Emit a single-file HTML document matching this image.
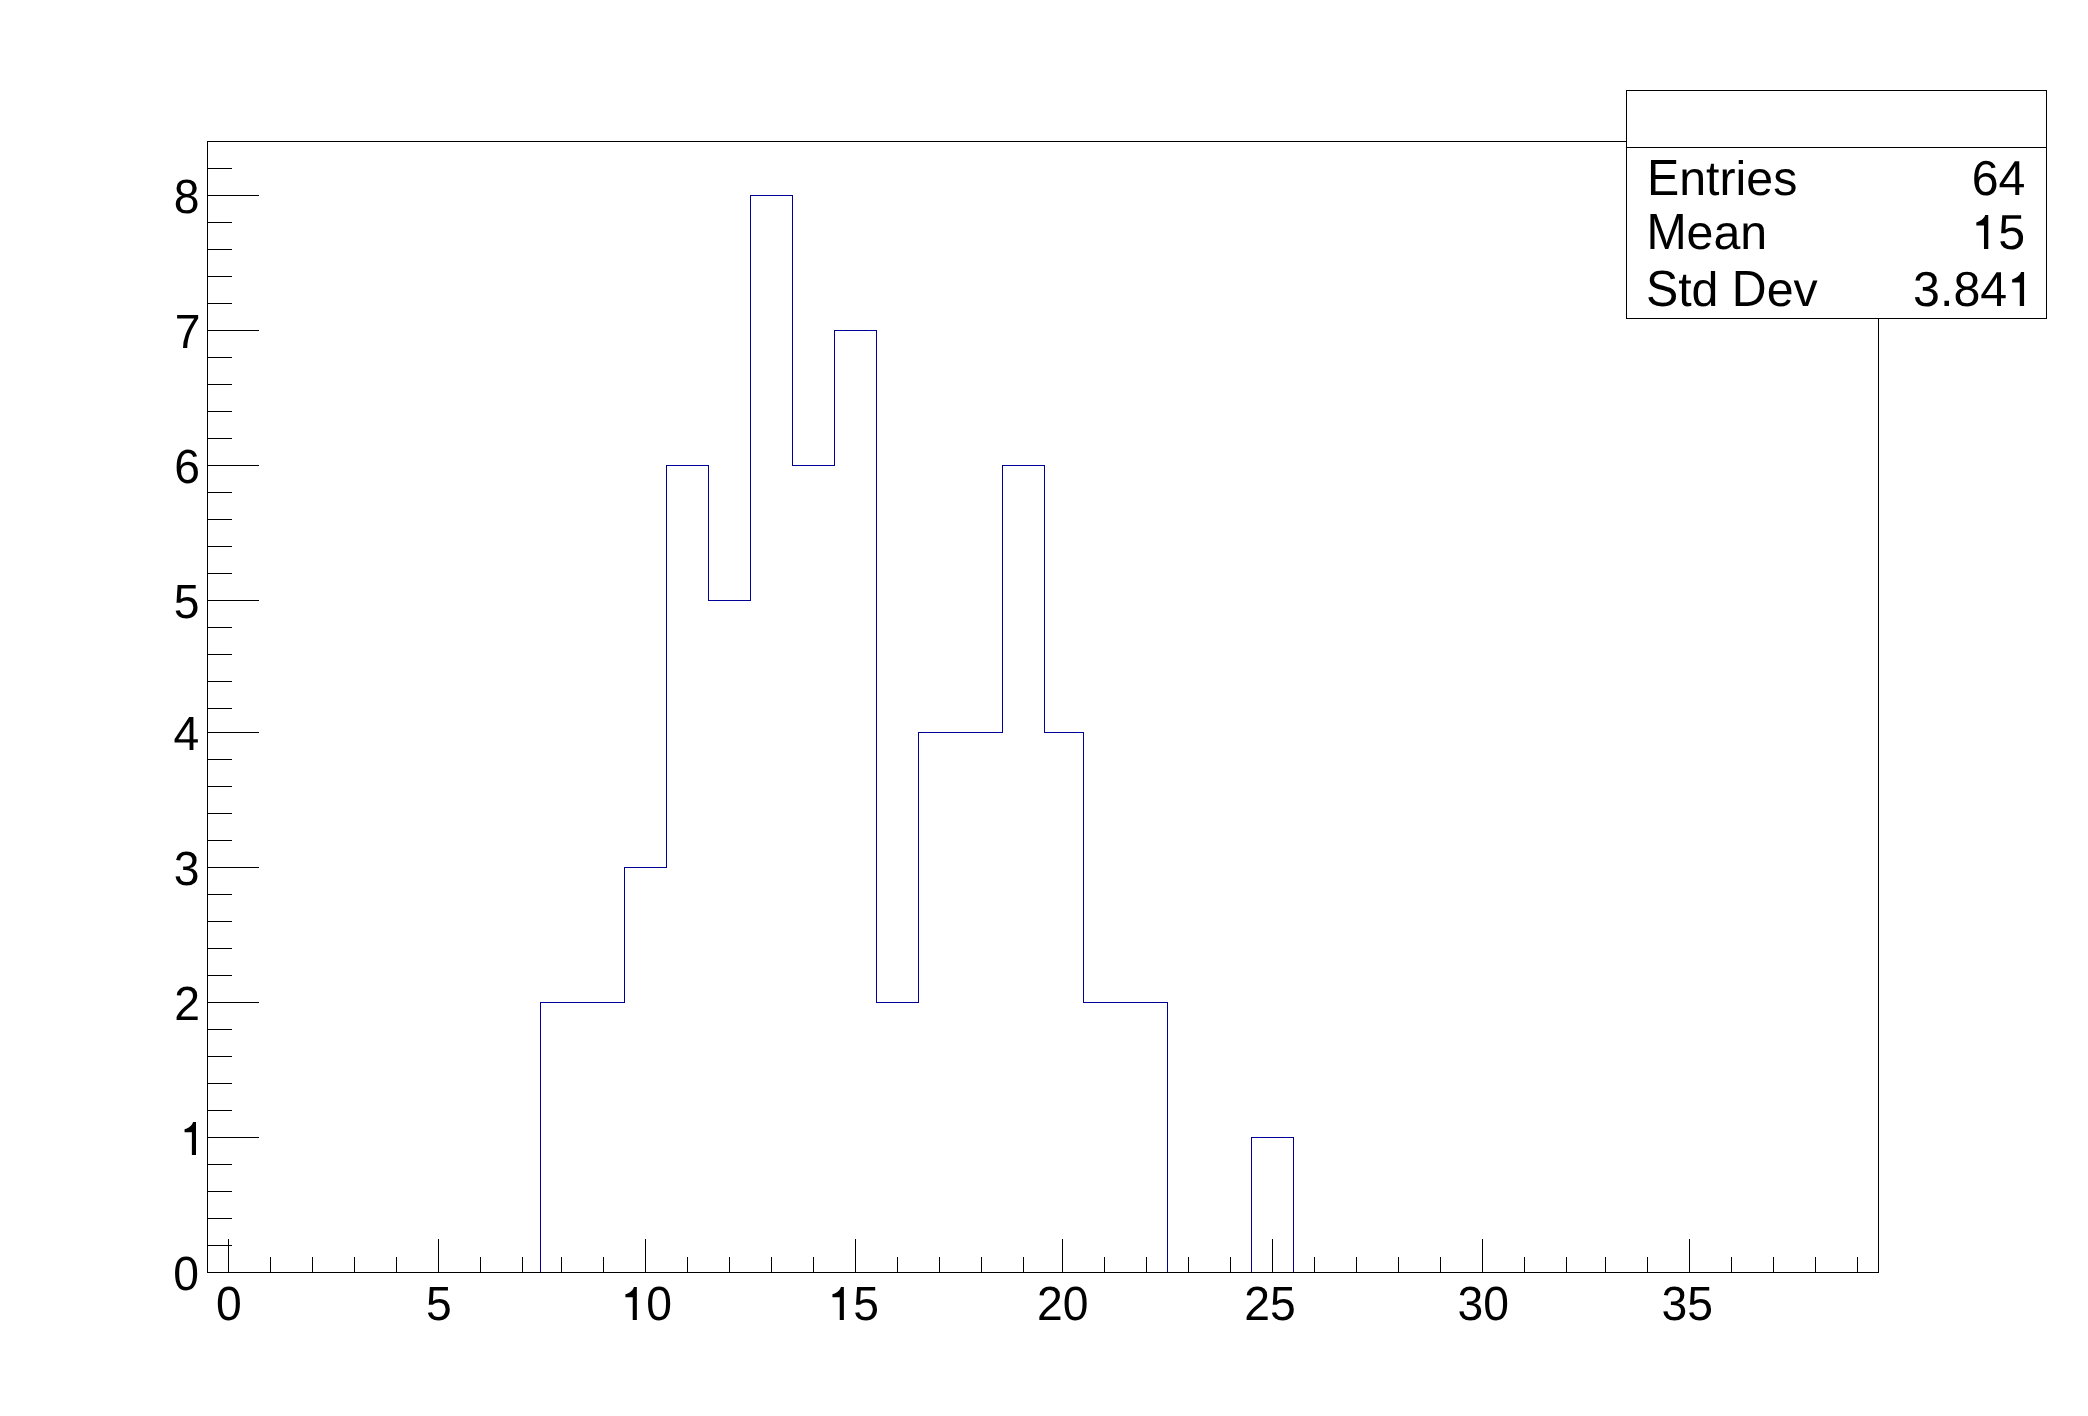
<!DOCTYPE html>
<html><head><meta charset="utf-8"><title>Histogram</title>
<style>
html,body{margin:0;padding:0;background:#fff;overflow:hidden;}
svg{display:block;will-change:transform;}
text{font-family:"Liberation Sans",sans-serif;fill:#000;text-rendering:geometricPrecision;font-kerning:none;}
.ax{font-size:46.3px;}
.st{font-size:48.3px;}
.h1{fill-opacity:0;}
</style></head><body>
<svg width="2088" height="1416" viewBox="0 0 2088 1416">
<defs><path id="one" d="M351 0 L351 709 L287 709 C272 645 205 582 104 554 L104 490 L262 490 L262 0 Z"/></defs>
<rect x="0" y="0" width="2088" height="1416" fill="#fff"/>
<path d="M207 1272h43v1h-43zM249 1272h43v1h-43zM291 1272h43v1h-43zM333 1272h43v1h-43zM375 1272h43v1h-43zM417 1272h43v1h-43zM459 1272h43v1h-43zM501 1272h40v1h-40zM540 1002h1v271h-1zM540 1002h43v1h-43zM582 1002h43v1h-43zM624 867h1v136h-1zM624 867h43v1h-43zM666 465h1v403h-1zM666 465h43v1h-43zM708 465h1v136h-1zM708 600h43v1h-43zM750 195h1v406h-1zM750 195h43v1h-43zM792 195h1v271h-1zM792 465h43v1h-43zM834 330h1v136h-1zM834 330h43v1h-43zM876 330h1v673h-1zM876 1002h43v1h-43zM918 732h1v271h-1zM918 732h43v1h-43zM960 732h43v1h-43zM1002 465h1v268h-1zM1002 465h43v1h-43zM1044 465h1v268h-1zM1044 732h40v1h-40zM1083 732h1v271h-1zM1083 1002h43v1h-43zM1125 1002h43v1h-43zM1167 1002h1v271h-1zM1167 1272h43v1h-43zM1209 1272h43v1h-43zM1251 1137h1v136h-1zM1251 1137h43v1h-43zM1293 1137h1v136h-1zM1293 1272h43v1h-43zM1335 1272h43v1h-43zM1377 1272h43v1h-43zM1419 1272h43v1h-43zM1461 1272h43v1h-43zM1503 1272h43v1h-43zM1545 1272h40v1h-40zM1584 1272h43v1h-43zM1626 1272h43v1h-43zM1668 1272h43v1h-43zM1710 1272h43v1h-43zM1752 1272h43v1h-43zM1794 1272h43v1h-43zM1836 1272h43v1h-43z" fill="#000099"/>
<path d="M207 141h1672v1h-1672zM1878 141h1v1132h-1zM207 1272h1672v1h-1672zM207 141h1v1132h-1z" fill="#000"/>
<path d="M228 1239h1v33h-1zM270 1257h1v15h-1zM312 1257h1v15h-1zM354 1257h1v15h-1zM396 1257h1v15h-1zM438 1239h1v33h-1zM480 1257h1v15h-1zM522 1257h1v15h-1zM561 1257h1v15h-1zM603 1257h1v15h-1zM645 1239h1v33h-1zM687 1257h1v15h-1zM729 1257h1v15h-1zM771 1257h1v15h-1zM813 1257h1v15h-1zM855 1239h1v33h-1zM897 1257h1v15h-1zM939 1257h1v15h-1zM981 1257h1v15h-1zM1023 1257h1v15h-1zM1062 1239h1v33h-1zM1104 1257h1v15h-1zM1146 1257h1v15h-1zM1188 1257h1v15h-1zM1230 1257h1v15h-1zM1272 1239h1v33h-1zM1314 1257h1v15h-1zM1356 1257h1v15h-1zM1398 1257h1v15h-1zM1440 1257h1v15h-1zM1482 1239h1v33h-1zM1524 1257h1v15h-1zM1566 1257h1v15h-1zM1605 1257h1v15h-1zM1647 1257h1v15h-1zM1689 1239h1v33h-1zM1731 1257h1v15h-1zM1773 1257h1v15h-1zM1815 1257h1v15h-1zM1857 1257h1v15h-1zM207 1272h52v1h-52zM207 1245h25v1h-25zM207 1218h25v1h-25zM207 1191h25v1h-25zM207 1164h25v1h-25zM207 1137h52v1h-52zM207 1110h25v1h-25zM207 1083h25v1h-25zM207 1056h25v1h-25zM207 1029h25v1h-25zM207 1002h52v1h-52zM207 975h25v1h-25zM207 948h25v1h-25zM207 921h25v1h-25zM207 894h25v1h-25zM207 867h52v1h-52zM207 840h25v1h-25zM207 813h25v1h-25zM207 786h25v1h-25zM207 759h25v1h-25zM207 732h52v1h-52zM207 708h25v1h-25zM207 681h25v1h-25zM207 654h25v1h-25zM207 627h25v1h-25zM207 600h52v1h-52zM207 573h25v1h-25zM207 546h25v1h-25zM207 519h25v1h-25zM207 492h25v1h-25zM207 465h52v1h-52zM207 438h25v1h-25zM207 411h25v1h-25zM207 384h25v1h-25zM207 357h25v1h-25zM207 330h52v1h-52zM207 303h25v1h-25zM207 276h25v1h-25zM207 249h25v1h-25zM207 222h25v1h-25zM207 195h52v1h-52zM207 168h25v1h-25zM207 141h25v1h-25z" fill="#000"/>
<text class="ax" transform="translate(215.93 1320) scale(1 1.036)">0</text>
<text class="ax" transform="translate(425.88 1320) scale(1 1.036)">5</text>
<text class="ax" transform="translate(620.60 1320) scale(1 1.036)"><tspan class="h1">1</tspan>0</text><use href="#one" transform="translate(620.60 1320) scale(0.04630 -0.04655)"/>
<text class="ax" transform="translate(827.62 1320) scale(1 1.036)"><tspan class="h1">1</tspan>5</text><use href="#one" transform="translate(827.62 1320) scale(0.04630 -0.04655)"/>
<text class="ax" transform="translate(1037.09 1320) scale(1 1.036)">20</text>
<text class="ax" transform="translate(1244.21 1320) scale(1 1.036)">25</text>
<text class="ax" transform="translate(1457.42 1320) scale(1 1.036)">30</text>
<text class="ax" transform="translate(1661.54 1320) scale(1 1.036)">35</text>
<text class="ax" transform="translate(173.36 1290) scale(1 1.036)">0</text>
<text class="ax" transform="translate(179.75 1155) scale(1 1.036)"><tspan class="h1">1</tspan></text><use href="#one" transform="translate(179.75 1155) scale(0.04630 -0.04655)"/>
<text class="ax" transform="translate(174.18 1020) scale(1 1.036)">2</text>
<text class="ax" transform="translate(173.68 885) scale(1 1.036)">3</text>
<text class="ax" transform="translate(173.61 750) scale(1 1.036)">4</text>
<text class="ax" transform="translate(173.79 618) scale(1 1.036)">5</text>
<text class="ax" transform="translate(174.28 483) scale(1 1.036)">6</text>
<text class="ax" transform="translate(174.78 348) scale(1 1.036)">7</text>
<text class="ax" transform="translate(173.86 213) scale(1 1.036)">8</text>
<rect x="1626" y="90" width="421" height="229" fill="#fff"/>
<path d="M1626 90h421v1h-421zM2046 90h1v229h-1zM1626 318h421v1h-421zM1626 90h1v229h-1zM1626 147h421v1h-421z" fill="#000"/>
<text class="st" transform="translate(1647.03 195) scale(1 1.053)">E</text><text class="st" transform="translate(1679.25 195) scale(1 1.0)">ntries</text>
<text class="st" transform="translate(1646.38 249) scale(1 1.053)">M</text><text class="st" transform="translate(1686.61 249) scale(1 1.0)">ean</text>
<text class="st" transform="translate(1645.93 306) scale(1 1.053)">S</text><text class="st" transform="translate(1678.15 306) scale(1 1.0)">td </text><text class="st" transform="translate(1731.85 306) scale(1 1.053)">D</text><text class="st" transform="translate(1766.73 306) scale(1 1.0)">ev</text>
<text class="st" transform="translate(1971.72 195) scale(1 1.02)">64</text>
<text class="st" transform="translate(1971.32 249) scale(1 1.02)"><tspan class="h1">1</tspan>5</text><use href="#one" transform="translate(1971.32 249) scale(0.04830 -0.04781)"/>
<text class="st" transform="translate(1913.10 306) scale(1 1.02)">3.84<tspan class="h1">1</tspan></text><use href="#one" transform="translate(2007.11 306) scale(0.04830 -0.04781)"/>
</svg>
</body></html>
